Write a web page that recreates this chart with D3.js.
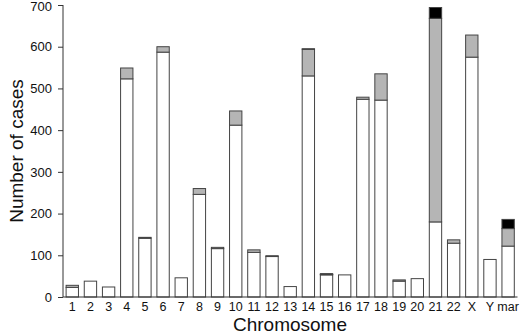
<!DOCTYPE html>
<html><head><meta charset="utf-8">
<script src="https://cdn.jsdelivr.net/npm/d3@7"></script>
<style>body{margin:0;background:#fff}svg{display:block}text{font-family:"Liberation Sans",Arial,sans-serif;fill:#111}</style>
</head><body><svg id="c" width="520" height="334"></svg>
<script>
const categories = ["1","2","3","4","5","6","7","8","9","10","11","12","13","14","15","16","17","18","19","20","21","22","X","Y","mar"];
const whiteVals  = [23,38,24,523,141,587,46,246,116,412,107,97,25,530,53,53,474,472,38,44,180,129,575,90,122];
const grayVals   = [5,0,0,26,0,13,0,14,3,34,6,2,0,64,1,0,5,63,3,0,488,8,53,0,42];
const blackVals  = [0,0,0,0,2,0,0,0,0,0,0,0,0,1,2,0,0,0,0,0,26,0,0,0,22];
const yTicks = [0,100,200,300,400,500,600,700];

const svg = d3.select("#c");
const x = d3.scaleBand().domain(categories).range([63.2,517.2]).paddingInner(0.32).paddingOuter(0.16);
const y = d3.scaleLinear().domain([0,700]).range([297,5]);

const rows = categories.map((c,i)=>({c, w:whiteVals[i], g:grayVals[i], b:blackVals[i]}));
const stack = d3.stack().keys(["w","g","b"])(rows);
const fills = {w:"#ffffff", g:"#b5b5b5", b:"#000000"};

stack.forEach(layer=>{
  svg.append("g").selectAll("rect").data(layer.filter(d=>d[1]>d[0])).join("rect")
    .attr("x", d=>x(d.data.c))
    .attr("width", x.bandwidth())
    .attr("y", d=>y(d[1]))
    .attr("height", d=>y(d[0])-y(d[1]))
    .attr("fill", fills[layer.key])
    .attr("stroke", "#444")
    .attr("stroke-width", 1);
});

const ya = svg.append("g").attr("transform","translate(63,0)")
  .call(d3.axisLeft(y).tickValues(yTicks).tickSize(5).tickPadding(6).tickFormat(d3.format("d")));
ya.select(".domain").attr("stroke","#333").attr("d","M0,5V297");
ya.selectAll(".tick line").attr("stroke","#333");
ya.selectAll("text").style("font-size","13px");
ya.selectAll(".tick").filter(d=>d===700).select("text").attr("dy","0.45em");

const xa = svg.append("g").attr("transform","translate(0,297)")
  .call(d3.axisBottom(x).tickSize(0).tickPadding(5));
xa.select(".domain").attr("stroke","#333").attr("d","M63,0H517.5");
xa.selectAll("text").style("font-size","12.5px");

svg.append("text").attr("x",290).attr("y",331).attr("text-anchor","middle")
  .style("font-size","19px").text("Chromosome");
svg.append("text").attr("transform","translate(23,151) rotate(-90)").attr("text-anchor","middle")
  .style("font-size","19px").text("Number of cases");
</script></body></html>
